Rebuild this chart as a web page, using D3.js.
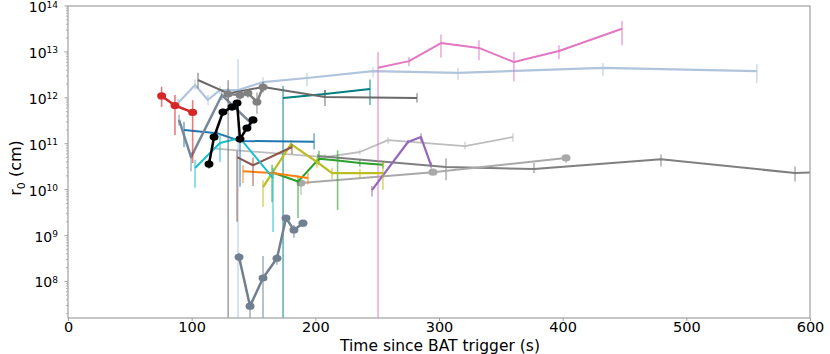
<!DOCTYPE html>
<html><head><meta charset="utf-8">
<script src="https://cdn.jsdelivr.net/npm/d3@7"></script>
<style>body{margin:0;background:#fff}svg{display:block}text{font-family:"DejaVu Sans",sans-serif}</style>
</head><body><svg id="c" width="830" height="354"></svg>
<script>
// rows: [time (s), r0 (cm), upper err end, lower err end]
const red = [[75.7,1.1e12,1.75e12,6.3e11],[86.5,6.8e11,1.15e12,1.55e11],[100.8,4.8e11,8.9e11,3.8e10]];
const lightBlue = [[89,7.7e11,9.5e11,6.2e11],[102.7,1.9e12,2.5e12,1.5e12],[113.2,9e11,1.15e12,7e11],[122.9,1.48e12,1.8e12,1.2e12],[137.5,1.48e12,7e12,1e7],[157.7,2.2e12,2.8e12,1.9e12],[193.3,2.7e12,3.5e12,1.8e12],[246.6,3.8e12,4.7e12,2.8e12],[315.4,3.5e12,4.5e12,2.45e12],[432.6,4.5e12,5.7e12,3.0e12],[557,3.8e12,5.4e12,2.1e12]];
const dimGray = [[105.1,2.44e12,3.5e12,1.6e12],[129.5,1.25e12,2.4e12,1e7],[157.7,1.72e12,2.2e12,1.3e12],[207.8,1.04e12,1.48e12,6.6e11],[282.2,9.9e11,1.26e12,7.9e11]];
const grayDots = [[129.4,1.21e12,1.6e12,8e11],[139.1,1.15e12,1.4e12,9e11],[145.5,1.27e12,1.5e12,1e12],[152.8,8.1e11,1.3e12,4.5e11],[157.7,1.72e12,2e12,1.4e12]];
const black = [[114.0,3.6e10,4.5e10,2.9e10],[118.1,1.4e11,1.7e11,1.15e11],[125.3,4.9e11,5.8e11,4.1e11],[132.6,6.3e11,7.3e11,5.4e11],[136.7,7.7e11,8.8e11,6.7e11],[139.1,1.26e11,1.5e11,1.05e11],[144.7,2.2e11,2.6e11,1.85e11],[149.6,3.3e11,3.8e11,2.8e11]];
const slateUpper = [[89.8,3.3e11,4.3e11,2.5e11],[99.5,5.1e10,6.5e10,2.5e10],[124.5,1.15e12,1.4e12,9e11],[148,2.8e11,3.3e11,2.4e11]];
const slateLower = [[138.3,3.4e8,4.2e8,2.8e8],[147.2,2.9e7,3.8e7,1.2e7],[157.7,1.19e8,3.6e8,1e7],[169,3.2e8,4e8,2.3e8],[176.3,2.4e9,2.8e9,2e9],[182.7,1.32e9,1.7e9,9e8],[190,1.86e9,2.1e9,1.6e9]];
const blue = [[93.8,2.0e11,3e11,8.5e10],[120.5,1.7e11,1.9e11,1.5e11],[139.1,1.15e11,1.7e11,1.15e10],[199,1.1e11,1.7e11,7.5e10]];
const cyan = [[102.7,2.95e10,4.4e10,1.1e10],[122.9,1.04e11,1.6e11,4e10],[139.1,1.33e11,1.5e11,1.2e11],[165.8,1.78e10,3e10,1.2e9]];
const brown = [[136.7,5.1e10,7e10,2e9],[149.6,3.4e10,5e10,1.2e10],[181.1,8.5e10,1e11,6e10]];
const orange = [[141.5,2.5e10,3.4e10,1.4e10],[165.8,2.3e10,2.6e10,2e10],[194,1.8e10,2.3e10,1.3e10]];
const olive = [[157.7,1.14e10,1.6e10,4.2e9],[180.3,9.8e10,1.2e11,7.5e10],[201.3,4e10,5e10,3e10],[213.5,2.3e10,3e10,1.7e10],[236.1,2.3e10,2.8e10,1.8e10],[254.7,2.3e10,4e10,1e10]];
const green = [[165,2.4e10,3.5e10,5.3e9],[186,1.5e10,2e10,2.4e9],[203,4.7e10,7e10,3.5e10],[218,4.3e10,7.2e10,3.6e9],[236,3.8e10,4.5e10,3.2e10],[254.7,3.5e10,4.2e10,2.9e10]];
const darkGrayDots = [[188.4,1.39e10,1.6e10,7.6e9],[295.1,2.4e10,2.7e10,2.1e10],[402.7,4.9e10,5.4e10,3.8e10]];
const lightGray = [[117,7.9e10,9e10,7e10],[207.8,5.1e10,6e10,4.4e10],[236,6.6e10,7.5e10,5.8e10],[258.8,1.2e11,1.4e11,1e11],[321,8.9e10,1.1e11,7.5e10],[359.8,1.4e11,1.7e11,1.1e11]];
const grayLong = [[202,5.4e10,6e10,4.8e10],[305.7,3.1e10,4.8e10,1.6e10],[376.8,2.8e10,3.8e10,2.3e10],[479.5,4.6e10,5.8e10,3.2e10],[587.9,2.3e10,3.2e10,1.5e10],[620,2.5e10,2.5e10,2.5e10]];
const teal = [[173.9,9.9e11,1.8e12,1e7],[207.8,1.21e12,1.48e12,1e12],[244.2,1.55e12,2.5e12,7e11]];
const pink = [[250.7,4.5e12,1e13,1e7],[275.7,6.3e12,7.7e12,4.9e12],[301.6,1.56e13,2.4e13,7.5e12],[332.3,1.22e13,1.8e13,6.6e12],[360.6,6e12,1e13,2.3e12],[397,1.05e13,1.4e13,7e12],[448,3.2e13,4.7e13,1.4e13]];
const purple = [[245.8,9.8e9,1.2e10,7e9],[274.9,1.09e11,1.2e11,1e11],[285.4,1.4e11,1.7e11,1.1e11],[293.5,3.4e10,4e10,2.9e10]];

const xTicks = [0,100,200,300,400,500,600];
const yExps = [8,9,10,11,12,13,14];

const series = [
  {d: lightGray, c: "#bdbdbd", w: 1.8, m: false},
  {d: grayLong, c: "#7f7f7f", w: 2, m: false},
  {d: darkGrayDots, c: "#a9a9a9", w: 2, m: true},
  {d: lightBlue, c: "#b0c4de", w: 2.2, m: false},
  {d: teal, c: "#008080", w: 2, m: false},
  {d: pink, c: "#e377c2", w: 2, m: false},
  {d: purple, c: "#9467bd", w: 2.2, m: false},
  {d: green, c: "#2ca02c", w: 2, m: false},
  {d: olive, c: "#bcbd22", w: 2.2, m: false},
  {d: orange, c: "#ff7f0e", w: 2, m: false},
  {d: brown, c: "#8c564b", w: 2, m: false},
  {d: blue, c: "#1f77b4", w: 2, m: false},
  {d: cyan, c: "#17becf", w: 2, m: false},
  {d: slateUpper, c: "#778899", w: 2.5, m: false},
  {d: dimGray, c: "#696969", w: 2, m: false},
  {d: grayDots, c: "#808080", w: 2.5, m: true},
  {d: red, c: "#d62728", w: 2.5, m: true},
  {d: slateLower, c: "#708090", w: 2.5, m: true},
  {d: black, c: "#000000", w: 2.5, m: true}
];

const L = 68, R = 810, T = 6, B = 318;
const x = d3.scaleLinear().domain([0, 600]).range([L, R]);
const y = d3.scaleLog().domain([1.6e7, 1e14]).range([B, T]);
const svg = d3.select("#c");

svg.append("defs").append("clipPath").attr("id","clip")
  .append("rect").attr("x", L).attr("y", T).attr("width", R-L).attr("height", B-T);

const plot = svg.append("g").attr("clip-path","url(#clip)");
const line = d3.line().x(d => x(d[0])).y(d => y(d[1]));

series.forEach(s => {
  const g = plot.append("g");
  g.selectAll("line.err").data(s.d).join("line")
    .attr("x1", d => x(d[0])).attr("x2", d => x(d[0]))
    .attr("y1", d => y(d[2])).attr("y2", d => y(d[3]))
    .attr("stroke", s.c).attr("stroke-width", 1.6).attr("stroke-opacity", 0.6);
  g.append("path").attr("d", line(s.d)).attr("fill","none")
    .attr("stroke", s.c).attr("stroke-width", s.w).attr("stroke-linejoin","round");
  if (s.m) {
    g.selectAll("ellipse").data(s.d).join("ellipse")
      .attr("cx", d => x(d[0])).attr("cy", d => y(d[1]))
      .attr("rx", 4.5).attr("ry", 3.6).attr("fill", s.c);
  }
});

// frame
svg.append("rect").attr("x", L).attr("y", T).attr("width", R-L).attr("height", B-T)
  .attr("fill","none").attr("stroke","#a0a0a0").attr("stroke-width",1.2);

// x axis
const xa = svg.append("g").attr("transform",`translate(0,${B})`)
  .call(d3.axisBottom(x).tickValues(xTicks).tickFormat(d3.format("d")).tickSize(3).tickPadding(1));
xa.select(".domain").remove();
xa.selectAll("line").attr("stroke","#a0a0a0");
xa.selectAll("text").attr("font-size",14.5).attr("fill","#000");

// y axis minor ticks
const minor = [];
for (let e = 7; e < 14; e++) for (let k = 2; k <= 9; k++) { const v = k*Math.pow(10,e); if (v >= 1.6e7 && v <= 1e14) minor.push(v); }
svg.append("g").selectAll("line").data(minor).join("line")
  .attr("x1", L-2).attr("x2", L).attr("y1", d => y(d)).attr("y2", d => y(d))
  .attr("stroke","#a0a0a0").attr("stroke-width",0.8);
svg.append("g").selectAll("line").data(yExps).join("line")
  .attr("x1", L-3.5).attr("x2", L).attr("y1", d => y(Math.pow(10,d))).attr("y2", d => y(Math.pow(10,d)))
  .attr("stroke","#a0a0a0").attr("stroke-width",1);
const yl = svg.append("g").selectAll("text").data(yExps).join("text")
  .attr("x", L-10).attr("y", d => y(Math.pow(10,d)) + 6)
  .attr("text-anchor","end").attr("font-size",14).attr("fill","#000");
yl.append("tspan").text("10");
yl.append("tspan").attr("dy",-4.5).attr("font-size",9).text(d => d);

// labels
svg.append("text").attr("x", 440).attr("y", 351).attr("text-anchor","middle")
  .attr("font-size",15.5).attr("fill","#000").text("Time since BAT trigger (s)");
const ylab = svg.append("text").attr("transform","translate(21,168) rotate(-90)")
  .attr("text-anchor","middle").attr("font-size",16).attr("fill","#000");
ylab.append("tspan").text("r");
ylab.append("tspan").attr("dy",4).attr("font-size",11).text("0");
ylab.append("tspan").attr("dy",-4).text(" (cm)");
</script></body></html>
